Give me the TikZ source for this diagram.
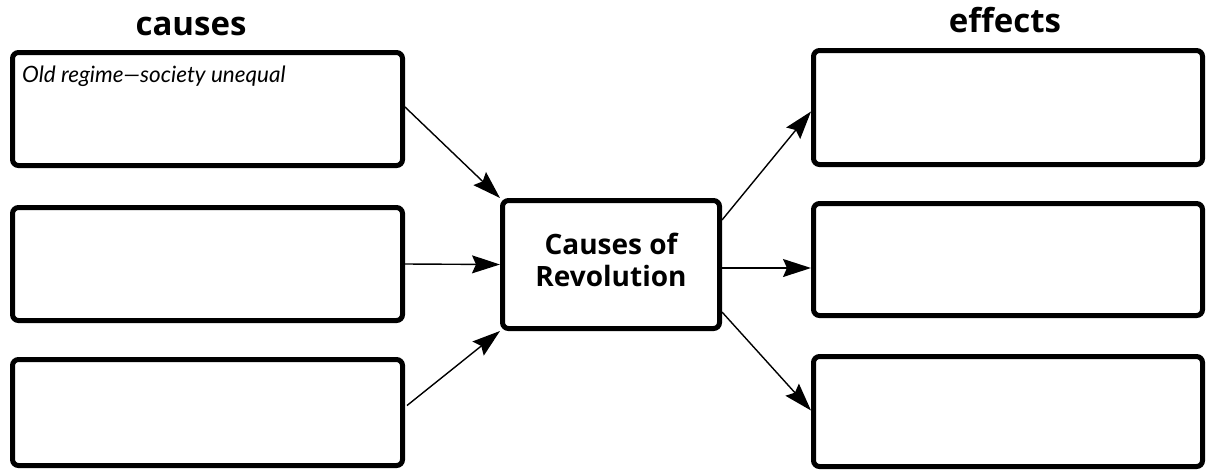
\documentclass[tikz,border=0pt]{standalone}
\usepackage{fontspec}
\setmainfont{Open Sans}
\newfontfamily\hdfont{Open Sans}
\newfontfamily\handfont{Lato}
\usetikzlibrary{arrows.meta,calc}
\tikzset{
  box/.style={draw=black, line width=5pt, rounded corners=6pt, inner sep=0pt, fill=white},
  arr/.style={line width=1.4pt, -{Stealth[length=28pt,width=18pt,inset=4pt]}},
  heading/.style={inner sep=0pt, anchor=base, font=\hdfont\bfseries\fontsize{33}{38}\selectfont},
  centertext/.style={align=center, inner sep=0pt, font=\hdfont\bfseries\fontsize{28}{32}\selectfont},
  hand/.style={inner sep=0pt, anchor=base west, font=\handfont\itshape\fontsize{22.5}{26}\selectfont}
}
\begin{document}
\begin{tikzpicture}[x=1pt,y=-1pt]
\useasboundingbox[fill=white] (0,0) rectangle (1207,472);
% headings
\node[heading] (hc) at (191,35) {causes};
\node[heading] (he) at (1005,32) {effects};
% left boxes
\node[box, minimum width=390pt, minimum height=113pt] (L1) at (207.5,109) {};
\node[box, minimum width=390pt, minimum height=113pt] (L2) at (207.5,264) {};
\node[box, minimum width=390pt, minimum height=106pt] (L3) at (207.5,412.5) {};
% center
\node[box, minimum width=217pt, minimum height=128pt] (C) at (611,264.5) {};
\node[centertext] (ct) at (611,260) {Causes of\\Revolution};
% right boxes
\node[box, minimum width=389pt, minimum height=114pt] (R1) at (1008,107.5) {};
\node[box, minimum width=389pt, minimum height=112pt] (R2) at (1008,259.5) {};
\node[box, minimum width=389pt, minimum height=110pt] (R3) at (1008,411.5) {};
% handwritten note
\node[hand] (note) at (22,82) {Old regime—society unequal};
% arrows
\draw[arr] ($(L1.east)+(0,-2)$) -- (C.north west);
\draw[arr] (L2.east) -- (C.west);
\draw[arr] ($(L3.east)+(2,-7)$) -- (C.south west);
\draw[arr] ($(C.north east)+(0,22)$) -- ($(R1.west)+(0,4)$);
\draw[arr] ($(C.east)+(0,3.5)$) coordinate (s5) -- (s5 -| R2.west);
\draw[arr] ($(C.south east)+(0,-19)$) -- ($(R3.west)+(0,-1)$);
\end{tikzpicture}
\end{document}
